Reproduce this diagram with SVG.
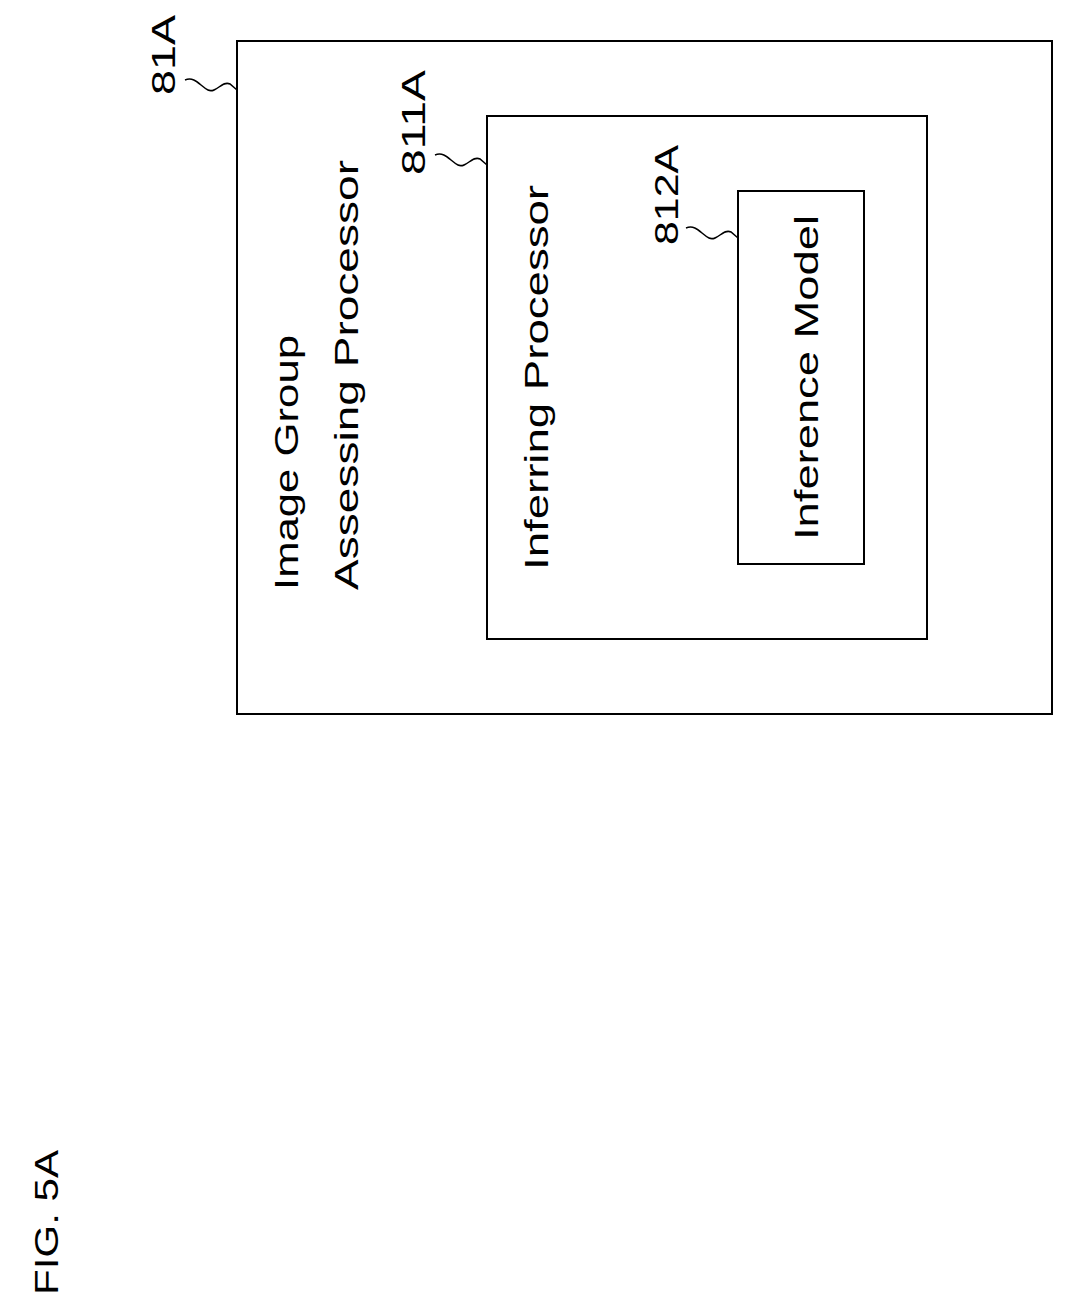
<svg xmlns="http://www.w3.org/2000/svg" width="1074" height="1314" viewBox="0 0 1074 1314">
<style>
.b{fill:none;stroke:#000;stroke-width:2}
.t{font-family:"Liberation Sans",Arial,sans-serif;font-size:34px;fill:#000}
.l{fill:none;stroke:#000;stroke-width:1.5}
</style>
<rect width="1074" height="1314" fill="#fff"/>
<g id="n81A"><rect class="b" x="237" y="41" width="815" height="673"/>
<text class="t" transform="translate(298,590) rotate(-90)" textLength="255" lengthAdjust="spacingAndGlyphs">Image Group</text>
<text class="t" transform="translate(358,590) rotate(-90)" textLength="430" lengthAdjust="spacingAndGlyphs">Assessing Processor</text>
<text class="t" transform="translate(175,95) rotate(-90)" textLength="80" lengthAdjust="spacingAndGlyphs">81A</text></g>
<g id="n811A"><rect class="b" x="487" y="116" width="440" height="523"/>
<text class="t" transform="translate(548,570) rotate(-90)" textLength="385" lengthAdjust="spacingAndGlyphs">Inferring Processor</text>
<text class="t" transform="translate(425,175) rotate(-90)" textLength="105" lengthAdjust="spacingAndGlyphs">811A</text></g>
<g id="n812A"><rect class="b" x="738" y="191" width="126" height="373"/>
<text class="t" transform="translate(818,540) rotate(-90)" textLength="325" lengthAdjust="spacingAndGlyphs">Inference Model</text>
<text class="t" transform="translate(678,245) rotate(-90)" textLength="100" lengthAdjust="spacingAndGlyphs">812A</text></g>
<g id="connectors">
<path class="l" d="M185,80 C195,76 200,86 208,90 C216,94 222,80 230,84 L237,90"/>
<path class="l" d="M435,155 C445,151 450,161 458,165 C466,169 472,155 480,159 L487,165"/>
<path class="l" d="M686,228 C696,224 701,234 709,238 C717,242 723,228 731,232 L738,238"/>
</g>
<text class="t" transform="translate(58,1295) rotate(-90)" textLength="145" lengthAdjust="spacingAndGlyphs">FIG. 5A</text>
</svg>
